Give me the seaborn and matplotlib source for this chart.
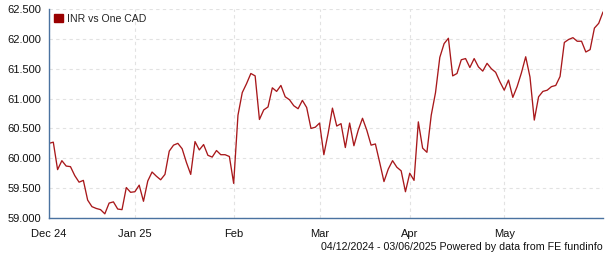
import numpy as np
import pandas as pd
import matplotlib
matplotlib.use("Agg")
import matplotlib.pyplot as plt
from matplotlib.patches import Patch
from matplotlib.ticker import FormatStrFormatter
import seaborn as sns

# ---- data (one value per business day, 04/12/2024 - 03/06/2025) ----
start_date = "2024-12-04"
end_date = "2025-06-03"
series_name = "INR vs One CAD"
rates = [
    60.25, 60.27, 59.81, 59.96, 59.87, 59.86, 59.71, 59.60, 59.63, 59.30,
    59.19, 59.16, 59.14, 59.07, 59.25, 59.27, 59.15, 59.14, 59.51, 59.43,
    59.44, 59.55, 59.28, 59.62, 59.77, 59.70, 59.64, 59.73, 60.12, 60.22,
    60.25, 60.16, 59.93, 59.73, 60.28, 60.14, 60.23, 60.05, 60.02, 60.13,
    60.06, 60.06, 60.03, 59.58, 60.72, 61.10, 61.25, 61.42, 61.38, 60.65,
    60.81, 60.86, 61.18, 61.12, 61.22, 61.03, 60.98, 60.88, 60.83, 60.97,
    60.85, 60.50, 60.52, 60.59, 60.06, 60.42, 60.84, 60.54, 60.58, 60.18,
    60.59, 60.21, 60.47, 60.67, 60.47, 60.22, 60.24, 59.93, 59.61, 59.82,
    59.96, 59.85, 59.79, 59.44, 59.75, 59.63, 60.61, 60.17, 60.10, 60.72,
    61.10, 61.69, 61.92, 62.01, 61.38, 61.42, 61.65, 61.67, 61.52, 61.67,
    61.53, 61.46, 61.59, 61.50, 61.44, 61.28, 61.14, 61.31, 61.02, 61.20,
    61.43, 61.70, 61.36, 60.64, 61.03, 61.12, 61.14, 61.20, 61.22, 61.37,
    61.94, 61.99, 62.02, 61.96, 61.96, 61.78, 61.82, 62.18, 62.26, 62.45,
]
tick_dates = ["2024-12-04", "2025-01-01", "2025-02-03", "2025-03-03", "2025-04-01", "2025-05-01"]
tick_labels = ["Dec 24", "Jan 25", "Feb", "Mar", "Apr", "May"]
y_ticks = [59.0, 59.5, 60.0, 60.5, 61.0, 61.5, 62.0, 62.5]
footer = "04/12/2024 - 03/06/2025 Powered by data from FE fundinfo"

dates = pd.bdate_range(start_date, end_date)
n = min(len(dates), len(rates))
df = pd.DataFrame({"pos": np.arange(n), "date": dates[:n], "rate": rates[:n]})
tick_pos = dates.get_indexer(pd.to_datetime(tick_dates))

# ---- styling ----
sns.set_style("white")
plt.rcParams["font.family"] = ["Liberation Sans", "DejaVu Sans"]
line_color = "#a8181b"
legend_color = "#990000"
spine_color = "#4a72a0"
grid_color = "#e2e2e2"
fs = 8

fig = plt.figure(figsize=(6.05, 2.6), dpi=100)
ax = fig.add_axes([49 / 605, 1 - 218 / 260, (603 - 49) / 605, (218 - 9) / 260])

sns.lineplot(data=df, x="pos", y="rate", ax=ax, color=line_color, linewidth=0.95)

ax.set_xlim(0, n - 1)
ax.set_ylim(y_ticks[0], y_ticks[-1])
ax.set_yticks(y_ticks)
ax.yaxis.set_major_formatter(FormatStrFormatter("%.3f"))
ax.set_xticks(tick_pos)
ax.set_xticklabels(tick_labels)
ax.set_xlabel("")
ax.set_ylabel("")

ax.grid(True, color=grid_color, linestyle=(0, (3, 3)), linewidth=0.8)
for s in ["top", "right"]:
    ax.spines[s].set_visible(False)
for s in ["left", "bottom"]:
    ax.spines[s].set_color(spine_color)
    ax.spines[s].set_linewidth(1.0)
ax.tick_params(axis="both", which="major", direction="out", length=4, width=0.8,
               color="#333333", labelsize=fs, labelcolor="#111111", pad=1.5)
ax.tick_params(axis="x", pad=4)

handle = Patch(facecolor=legend_color, edgecolor=legend_color)
ax.legend([handle], [series_name], loc="upper left", frameon=False, fontsize=7.6,
          handlelength=0.85, handleheight=0.85, handletextpad=0.45,
          borderaxespad=0.25, borderpad=0.2)

fig.text(603 / 605, 1 - 247 / 260, footer, ha="right", va="center", fontsize=7.7, color="#111111")

fig.savefig("out.png", dpi=100)
